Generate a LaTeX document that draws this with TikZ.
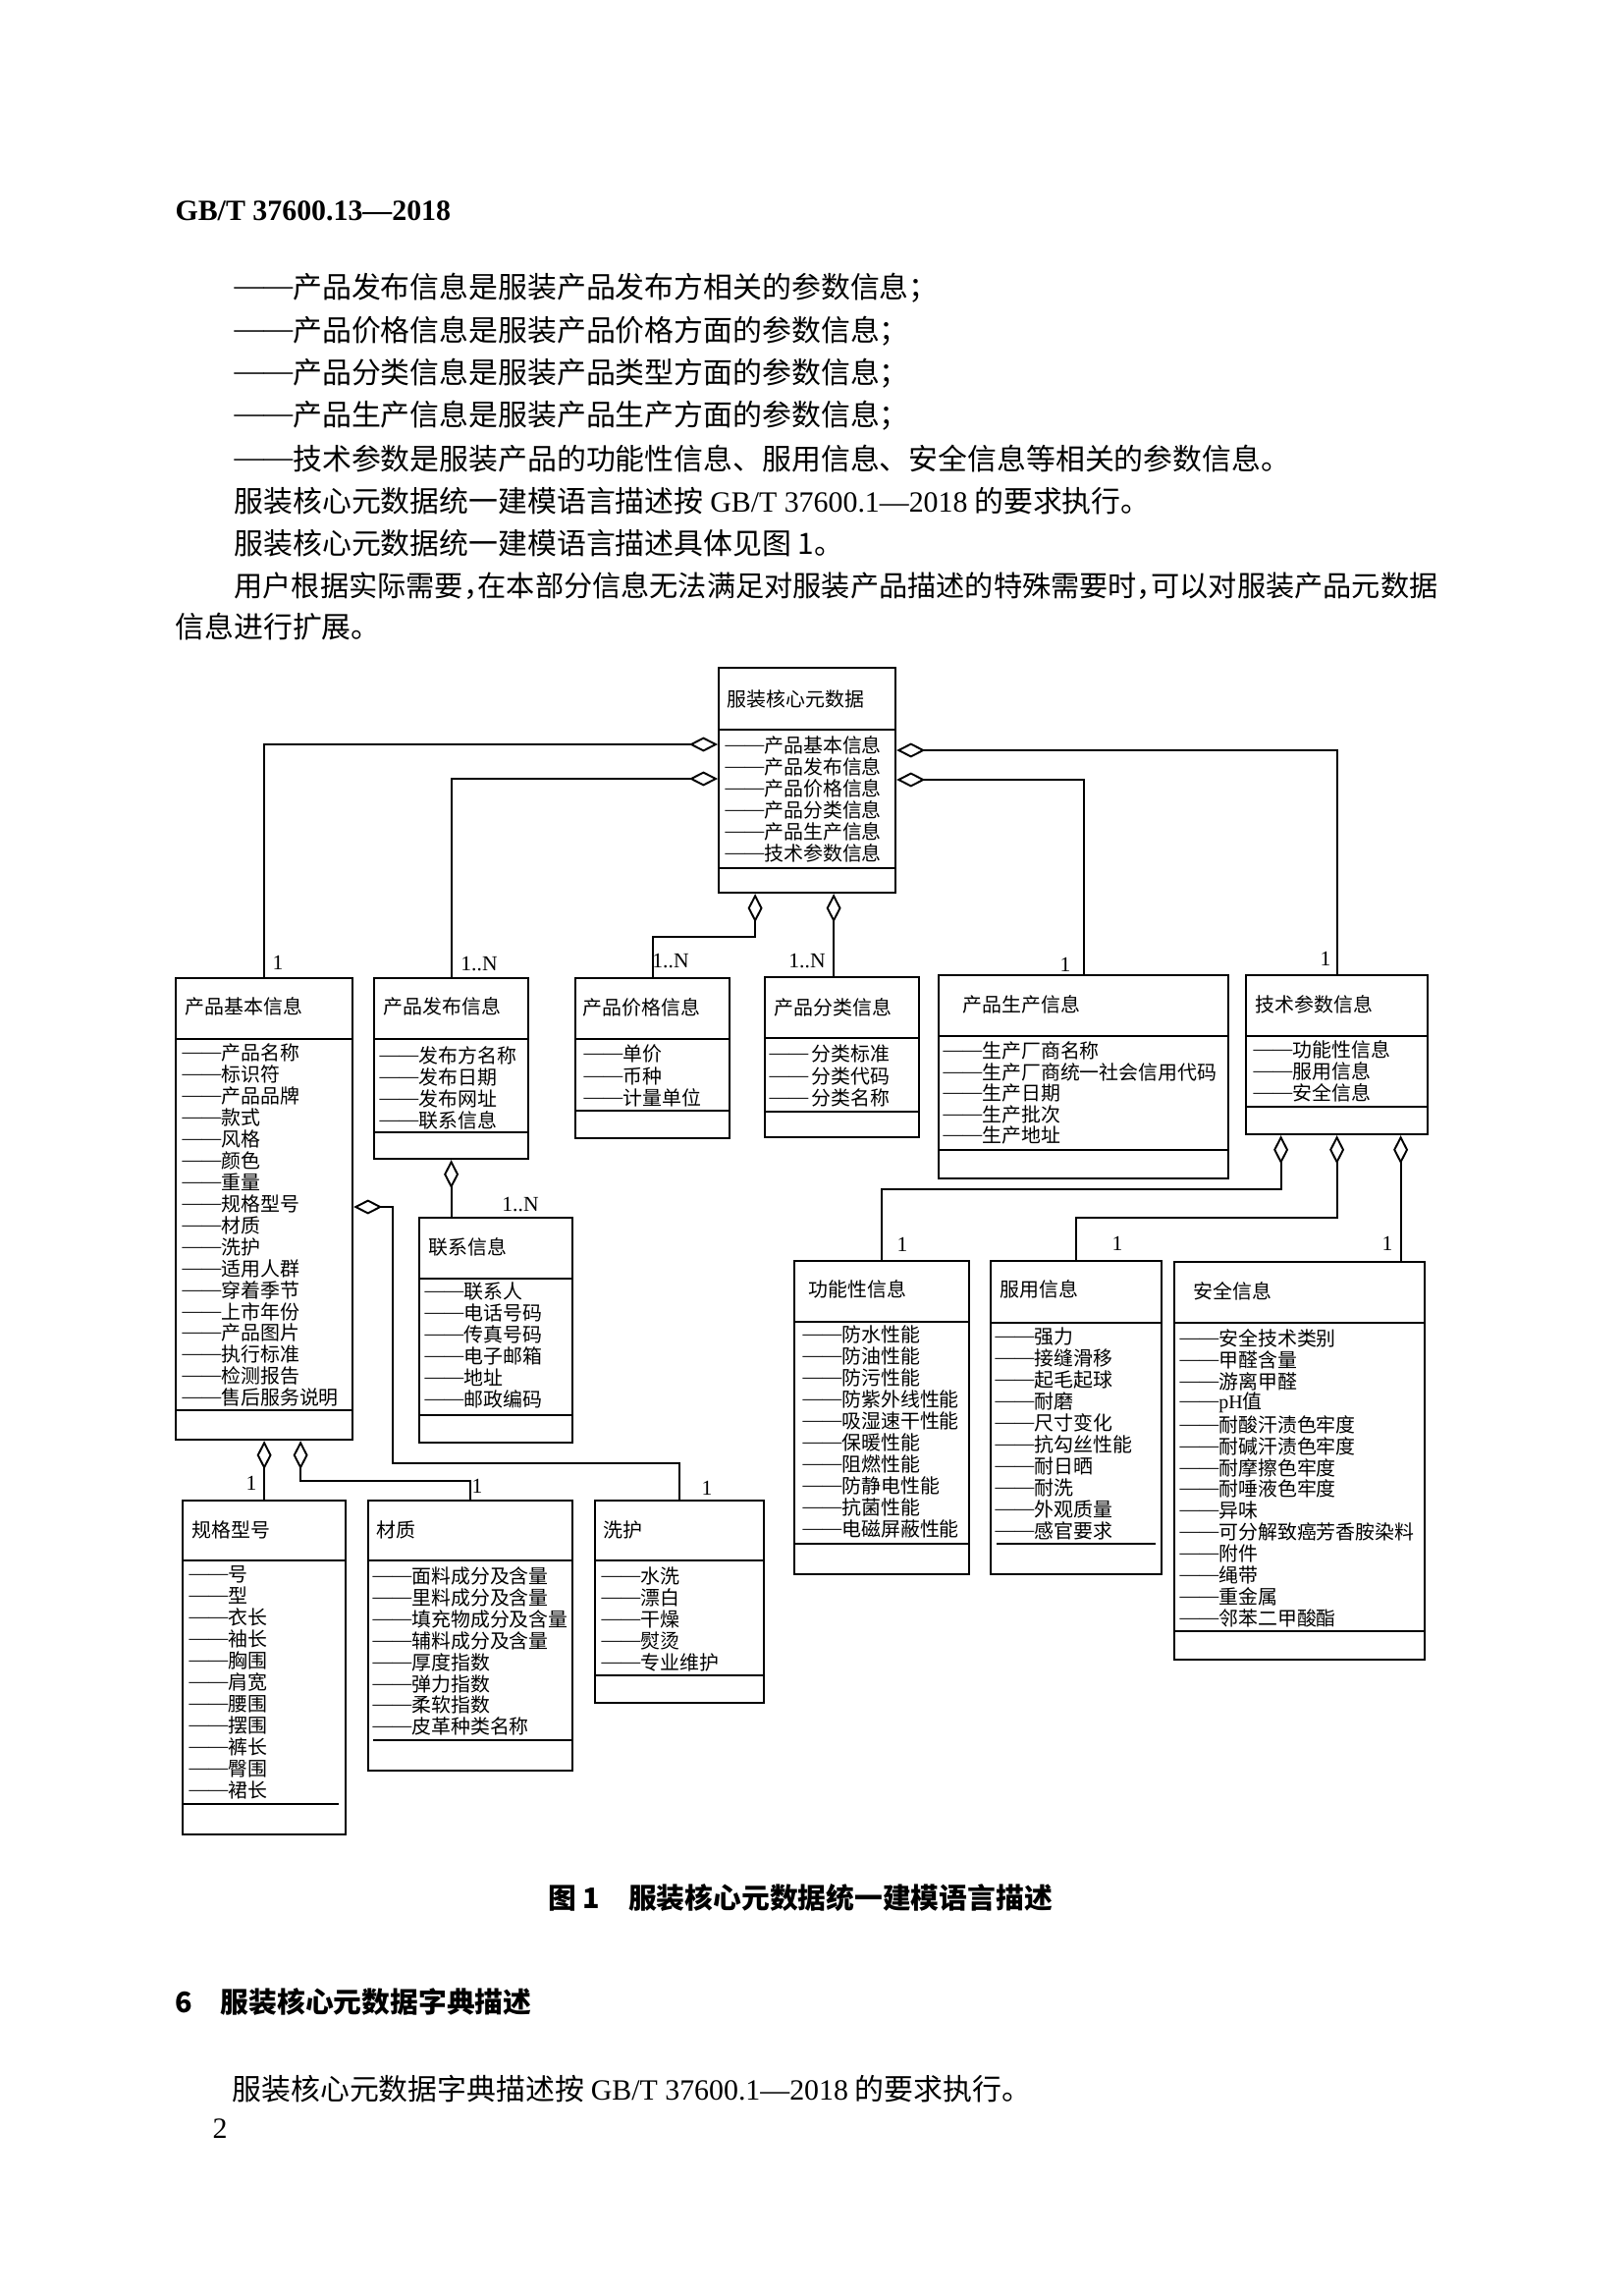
\documentclass[tikz,border=0pt]{standalone}
\usepackage{fontspec}
\setmainfont{Noto Sans CJK SC}
\newfontfamily\lat{Liberation Serif}
\usetikzlibrary{arrows.meta,calc}

\newcommand{\attrdash}{\raisebox{0.1em}{\lat ——}}

\tikzset{
  cls/.style 2 args={draw, line width=0.8pt, anchor=north west, inner sep=0pt,
    minimum width=#1*0.12704mm, minimum height=#2*0.12704mm},
  sepline/.style={line width=0.7pt},
  ttl/.style={anchor=west, inner sep=0pt, font=\fontsize{7.2}{8}\selectfont},
  attr/.style={anchor=west, inner sep=0pt, font=\fontsize{7.2}{8}\selectfont},
  mult/.style={inner sep=0pt, font=\lat\fontsize{7.8}{8}\selectfont},
  agg/.style={line width=0.7pt, {Diamond[open,length=3.7mm,width=1.9mm]}-},
  txt/.style={anchor=west, inner sep=0pt, font=\fontsize{10.8}{13}\selectfont},
  hdr/.style={anchor=west, inner sep=0pt, font=\lat\bfseries\fontsize{10.8}{13}\selectfont},
  figcap/.style={anchor=west, inner sep=0pt, font=\bfseries\fontsize{10.4}{13}\selectfont},
}

\begin{document}
\begin{tikzpicture}[x=0.12704mm, y=-0.12704mm]
\fill[white] (0,0) rectangle (1653,2338);
\useasboundingbox (0,0) rectangle (1653,2338);

% page text
\node[hdr] (hdr) at (178,215) {GB/T 37600.13—2018};
\node[txt] (l1) at (238,293) {\attrdash 产品发布信息是服装产品发布方相关的参数信息；};
\node[txt] (l2) at (238,337) {\attrdash 产品价格信息是服装产品价格方面的参数信息；};
\node[txt] (l3) at (238,380) {\attrdash 产品分类信息是服装产品类型方面的参数信息；};
\node[txt] (l4) at (238,423) {\attrdash 产品生产信息是服装产品生产方面的参数信息；};
\node[txt] (l5) at (238,467) {\attrdash 技术参数是服装产品的功能性信息、服用信息、安全信息等相关的参数信息。};
\node[txt] (l6) at (238,510) {服装核心元数据统一建模语言描述按 {\lat GB/T 37600.1—2018} 的要求执行。};
\node[txt] (l7) at (238,553) {服装核心元数据统一建模语言描述具体见图 1。};
\node[txt, font=\fontsize{10.55}{13}\selectfont] (l8) at (238,597) {用户根据实际需要，\kern-.5em 在本部分信息无法满足对服装产品描述的特殊需要时，\kern-.5em 可以对服装产品元数据};
\node[txt] (l9) at (178,638) {信息进行扩展。};

% core class
\node[cls={180}{229}] (core) at (731,679) {};
\node[ttl] (core-t) at (740,712) {服装核心元数据};
\draw[sepline] (core.west |- 0,743) -- (core.east |- 0,743);
\draw[sepline] (core.west |- 0,884) -- (core.east |- 0,884);
\foreach \t [count=\i from 0] in {产品基本信息,产品发布信息,产品价格信息,产品分类信息,产品生产信息,技术参数信息}
  \node[attr] (core-\i) at (738,759+22*\i) {\attrdash\t};

% 产品基本信息
\node[cls={180}{470}] (basic) at (178,995) {};
\node[ttl] (basic-t) at (188,1025) {产品基本信息};
\draw[sepline] (basic.west |- 0,1058) -- (basic.east |- 0,1058);
\draw[sepline] (basic.west |- 0,1436) -- (basic.east |- 0,1436);
\foreach \t [count=\i from 0] in {产品名称,标识符,产品品牌,款式,风格,颜色,重量,规格型号,材质,洗护,适用人群,穿着季节,上市年份,产品图片,执行标准,检测报告,售后服务说明}
  \node[attr] (basic-\i) at (185,1072+21.95*\i) {\attrdash\t};

% 产品发布信息
\node[cls={157}{184}] (pub) at (380,995) {};
\node[ttl] (pub-t) at (390,1025) {产品发布信息};
\draw[sepline] (pub.west |- 0,1058) -- (pub.east |- 0,1058);
\draw[sepline] (pub.west |- 0,1153) -- (pub.east |- 0,1153);
\foreach \t [count=\i from 0] in {发布方名称,发布日期,发布网址,联系信息}
  \node[attr] (pub-\i) at (386,1075+22*\i) {\attrdash\t};

% 产品价格信息
\node[cls={157}{163}] (price) at (585,995) {};
\node[ttl] (price-t) at (593,1026) {产品价格信息};
\draw[sepline] (price.west |- 0,1058) -- (price.east |- 0,1058);
\draw[sepline] (price.west |- 0,1131) -- (price.east |- 0,1131);
\foreach \t [count=\i from 0] in {单价,币种,计量单位}
  \node[attr] (price-\i) at (594,1073+22.5*\i) {\attrdash\t};

% 产品分类信息
\node[cls={157}{163}] (cat) at (778,994) {};
\node[ttl] (cat-t) at (788,1026) {产品分类信息};
\draw[sepline] (cat.west |- 0,1057) -- (cat.east |- 0,1057);
\draw[sepline] (cat.west |- 0,1132) -- (cat.east |- 0,1132);
\foreach \t [count=\i from 0] in {分类标准,分类代码,分类名称}
  \node[attr] (cat-\i) at (783,1073+22.5*\i) {\attrdash\,\t};

% 产品生产信息
\node[cls={295}{207}] (prod) at (955,992) {};
\node[ttl] (prod-t) at (980,1023) {产品生产信息};
\draw[sepline] (prod.west |- 0,1055) -- (prod.east |- 0,1055);
\draw[sepline] (prod.west |- 0,1171) -- (prod.east |- 0,1171);
\foreach \t [count=\i from 0] in {生产厂商名称,生产厂商统一社会信用代码,生产日期,生产批次,生产地址}
  \node[attr] (prod-\i) at (960,1070+21.5*\i) {\attrdash\t};

% 技术参数信息
\node[cls={185}{162}] (tech) at (1268,992) {};
\node[ttl] (tech-t) at (1278,1023) {技术参数信息};
\draw[sepline] (tech.west |- 0,1055) -- (tech.east |- 0,1055);
\draw[sepline] (tech.west |- 0,1127) -- (tech.east |- 0,1127);
\foreach \t [count=\i from 0] in {功能性信息,服用信息,安全信息}
  \node[attr] (tech-\i) at (1276,1069+22*\i) {\attrdash\t};

% 联系信息
\node[cls={156}{229}] (contact) at (426,1239) {};
\node[ttl] (contact-t) at (436,1270) {联系信息};
\draw[sepline] (contact.west |- 0,1302) -- (contact.east |- 0,1302);
\draw[sepline] (contact.west |- 0,1441) -- (contact.east |- 0,1441);
\foreach \t [count=\i from 0] in {联系人,电话号码,传真号码,电子邮箱,地址,邮政编码}
  \node[attr] (contact-\i) at (432,1315+22*\i) {\attrdash\t};

% 规格型号
\node[cls={166}{340}] (size) at (185,1527) {};
\node[ttl] (size-t) at (195,1558) {规格型号};
\draw[sepline] (size.west |- 0,1589) -- (size.east |- 0,1589);
\draw[sepline] (size.west |- 0,1837) -- (345,1837);
\foreach \t [count=\i from 0] in {号,型,衣长,袖长,胸围,肩宽,腰围,摆围,裤长,臀围,裙长}
  \node[attr] (size-\i) at (192,1603+22*\i) {\attrdash\t};

% 材质
\node[cls={208}{275}] (mat) at (374,1527) {};
\node[ttl] (mat-t) at (383,1558) {材质};
\draw[sepline] (mat.west |- 0,1589) -- (mat.east |- 0,1589);
\draw[sepline] (380,1772) -- (mat.east |- 0,1772);
\foreach \t [count=\i from 0] in {面料成分及含量,里料成分及含量,填充物成分及含量,辅料成分及含量,厚度指数,弹力指数,柔软指数,皮革种类名称}
  \node[attr] (mat-\i) at (379,1605+21.9*\i) {\attrdash\t};

% 洗护
\node[cls={172}{206}] (care) at (605,1527) {};
\node[ttl] (care-t) at (614,1558) {洗护};
\draw[sepline] (care.west |- 0,1589) -- (care.east |- 0,1589);
\draw[sepline] (care.west |- 0,1706) -- (care.east |- 0,1706);
\foreach \t [count=\i from 0] in {水洗,漂白,干燥,熨烫,专业维护}
  \node[attr] (care-\i) at (612,1605+22*\i) {\attrdash\t};

% 功能性信息
\node[cls={178}{319}] (func) at (808,1283) {};
\node[ttl] (func-t) at (823,1313) {功能性信息};
\draw[sepline] (func.west |- 0,1346) -- (func.east |- 0,1346);
\draw[sepline] (func.west |- 0,1572) -- (func.east |- 0,1572);
\foreach \t [count=\i from 0] in {防水性能,防油性能,防污性能,防紫外线性能,吸湿速干性能,保暖性能,阻燃性能,防静电性能,抗菌性能,电磁屏蔽性能}
  \node[attr] (func-\i) at (817,1359+22*\i) {\attrdash\t};

% 服用信息
\node[cls={174}{319}] (wear) at (1008,1283) {};
\node[ttl] (wear-t) at (1018,1313) {服用信息};
\draw[sepline] (wear.west |- 0,1347) -- (wear.east |- 0,1347);
\draw[sepline] (1015,1572) -- (1177,1572);
\foreach \t [count=\i from 0] in {强力,接缝滑移,起毛起球,耐磨,尺寸变化,抗勾丝性能,耐日晒,耐洗,外观质量,感官要求}
  \node[attr] (wear-\i) at (1013,1361+22*\i) {\attrdash\t};

% 安全信息
\node[cls={255}{405}] (safe) at (1195,1284) {};
\node[ttl] (safe-t) at (1215,1315) {安全信息};
\draw[sepline] (safe.west |- 0,1347) -- (safe.east |- 0,1347);
\draw[sepline] (safe.west |- 0,1661) -- (safe.east |- 0,1661);
\foreach \t [count=\i from 0] in {安全技术类别,甲醛含量,游离甲醛,{\lat pH}值,耐酸汗渍色牢度,耐碱汗渍色牢度,耐摩擦色牢度,耐唾液色牢度,异味,可分解致癌芳香胺染料,附件,绳带,重金属,邻苯二甲酸酯}
  \node[attr] (safe-\i) at (1201,1363+21.9*\i) {\attrdash\t};

% aggregations
\draw[agg] (core.west |- 0,758) -| (basic.north);
\draw[agg] (core.west |- 0,793) -| (pub.north);
\draw[agg] ($(core.south)+(-53,0)$) -- ++(0,44) -| (price.north);
\draw[agg] ($(core.south)+(27,0)$) coordinate (c2) -- (c2 |- cat.north);
\draw[agg] (core.east |- 0,764) -| (tech.north);
\draw[agg] (core.east |- 0,794) -| (prod.north);
\draw[agg] (pub.south) -- (pub.south |- contact.north);
\draw[agg] (basic.east |- 0,1229) -- ++(40,0) |- ($(care.north)+(0,-37)$) -- (care.north);
\draw[agg] (basic.south) -- (size.north);
\draw[agg] ($(basic.south)+(37,0)$) -- ++(0,41) -| (mat.north);
\draw[agg] ($(tech.south)+(-57,0)$) -- ++(0,55) -| (func.north);
\draw[agg] (tech.south) -- ++(0,84) -| (wear.north);
\draw[agg] ($(tech.south)+(65,0)$) coordinate (t3) -- (t3 |- safe.north);

% multiplicities
\node[mult] (m1) at (283,980) {1};
\node[mult] (m2) at (488,982) {1..N};
\node[mult] (m3) at (683,979) {1..N};
\node[mult] (m4) at (822,979) {1..N};
\node[mult] (m5) at (1085,982) {1};
\node[mult] (m6) at (1350,976) {1};
\node[mult] (m7) at (530,1227) {1..N};
\node[mult] (m8) at (256,1510) {1};
\node[mult] (m9) at (486,1513) {1};
\node[mult] (m10) at (720,1515) {1};
\node[mult] (m11) at (919,1267) {1};
\node[mult] (m12) at (1138,1266) {1};
\node[mult] (m13) at (1413,1266) {1};

% caption and following text
\node[figcap] (fig) at (558,1933) {图 1\hspace{1em}服装核心元数据统一建模语言描述};
\node[figcap] (sec) at (178,2038) {6\hspace{1em}服装核心元数据字典描述};
\node[txt] (l10) at (236,2127) {服装核心元数据字典描述按 {\lat GB/T 37600.1—2018} 的要求执行。};
\node[txt] (pg) at (216,2168) {\lat 2};
\end{tikzpicture}
\end{document}
